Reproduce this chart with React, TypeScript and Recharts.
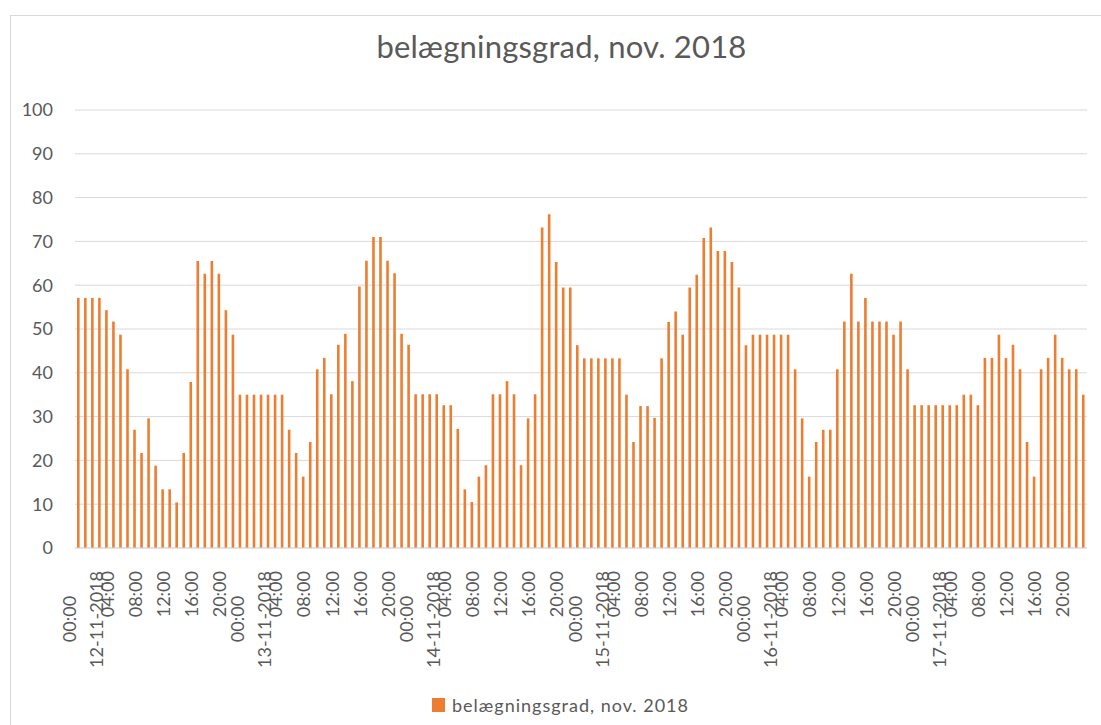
import React from 'react';
import { BarChart, Bar, XAxis, YAxis, CartesianGrid } from 'recharts';

const dates = ['12-11-2018', '13-11-2018', '14-11-2018', '15-11-2018', '16-11-2018', '17-11-2018'];
const hours = [
  '00:00', '01:00', '02:00', '03:00', '04:00', '05:00', '06:00', '07:00',
  '08:00', '09:00', '10:00', '11:00', '12:00', '13:00', '14:00', '15:00',
  '16:00', '17:00', '18:00', '19:00', '20:00', '21:00', '22:00', '23:00',
];
const yTicks = [0, 10, 20, 30, 40, 50, 60, 70, 80, 90, 100];

const day12 = [57.1, 57.1, 57.1, 57.1, 54.3, 51.7, 48.7, 40.8, 27.0, 21.7, 29.6, 18.8, 13.4, 13.4, 10.4, 21.7, 37.9, 65.5, 62.6, 65.5, 62.6, 54.3, 48.7, 35.0];
const day13 = [35.0, 35.0, 35.0, 35.0, 35.0, 35.0, 27.0, 21.7, 16.3, 24.2, 40.8, 43.4, 35.1, 46.4, 48.9, 38.1, 59.7, 65.6, 71.0, 71.0, 65.6, 62.7, 48.9, 46.4];
const day14 = [35.1, 35.1, 35.1, 35.1, 32.6, 32.6, 27.2, 13.4, 10.5, 16.3, 18.9, 35.1, 35.1, 38.1, 35.1, 18.9, 29.6, 35.1, 73.2, 76.2, 65.3, 59.5, 59.5, 46.3];
const day15 = [43.3, 43.3, 43.3, 43.3, 43.3, 43.3, 35.0, 24.2, 32.4, 32.4, 29.7, 43.3, 51.6, 54.0, 48.7, 59.5, 62.4, 70.8, 73.2, 67.8, 67.8, 65.3, 59.5, 46.3];
const day16 = [48.7, 48.7, 48.7, 48.7, 48.7, 48.7, 40.8, 29.6, 16.3, 24.2, 27.0, 27.0, 40.8, 51.7, 62.6, 51.7, 57.1, 51.7, 51.7, 51.7, 48.7, 51.7, 40.8, 32.6];
const day17 = [32.6, 32.6, 32.6, 32.6, 32.6, 32.6, 35.0, 35.0, 32.6, 43.4, 43.4, 48.7, 43.4, 46.4, 40.8, 24.2, 16.3, 40.8, 43.4, 48.7, 43.4, 40.8, 40.8, 35.0];
const dayValues = [day12, day13, day14, day15, day16, day17];

const seriesName = 'belægningsgrad, nov. 2018';
const title = 'belægningsgrad, nov. 2018';

const data = dates.flatMap((d, di) =>
  hours.map((h, hi) => ({ key: `${d} ${h}`, value: dayValues[di][hi] }))
);

const TEXT = '#595959';
const FONT = 'Lato, sans-serif';
const ORANGE = '#ED7D31';
const GRID = '#D9D9D9';

function XTick(props: any) {
  const { x, y, payload } = props;
  const [date, hour] = String(payload.value).split(' ');
  const top = y + 23;
  if (hour === '00:00') {
    return (
      <g>
        <text transform={`translate(${x + 17},${top}) rotate(-90)`} textAnchor="end" dominantBaseline="central" fill={TEXT} fontSize={18} fontFamily={FONT}>{date}</text>
        <text transform={`translate(${x - 10},${top + 48}) rotate(-90)`} textAnchor="middle" dominantBaseline="central" fill={TEXT} fontSize={18} fontFamily={FONT}>{hour}</text>
      </g>
    );
  }
  return (
    <text transform={`translate(${x},${top}) rotate(-90)`} textAnchor="end" dominantBaseline="central" fill={TEXT} fontSize={18} fontFamily={FONT}>{hour}</text>
  );
}

export default function App() {
  return (
    <div style={{ position: 'absolute', left: 0, top: 0, width: 1101, height: 725, background: '#fff', overflow: 'hidden' }}>
      <div style={{ position: 'absolute', left: 10, top: 15, width: 1200, height: 800, borderLeft: `1px solid ${GRID}`, borderTop: `1px solid ${GRID}` }} />
      <div style={{ position: 'absolute', left: 0, top: 0 }}>
        <BarChart width={1101} height={725} data={data} margin={{ top: 110, right: 14, bottom: 0, left: 0 }} barSize={2.6}>
          <CartesianGrid vertical={false} stroke={GRID} />
          <XAxis dataKey="key" interval={3} tickLine={false} tickSize={0} tickMargin={0} axisLine={{ stroke: GRID }} height={177} tick={<XTick />} />
          <YAxis domain={[0, 100]} ticks={yTicks} tickLine={false} tickSize={0} tickMargin={22} axisLine={false} width={75} tick={{ fill: TEXT, fontSize: 18, fontFamily: FONT }} />
          <Bar dataKey="value" name={seriesName} fill={ORANGE} isAnimationActive={false} />
        </BarChart>
      </div>
      <svg width={1101} height={725} style={{ position: 'absolute', left: 0, top: 0, pointerEvents: 'none' }}>
        <text x={561.5} y={58} textAnchor="middle" fill={TEXT} fontSize={31} letterSpacing={0.2} fontFamily={FONT}>{title}</text>
        <rect x={432} y={698} width={13} height={14} fill={ORANGE} />
        <text x={452} y={705} dominantBaseline="central" fill={TEXT} fontSize={18} letterSpacing={1} fontFamily={FONT}>{seriesName}</text>
      </svg>
    </div>
  );
}
